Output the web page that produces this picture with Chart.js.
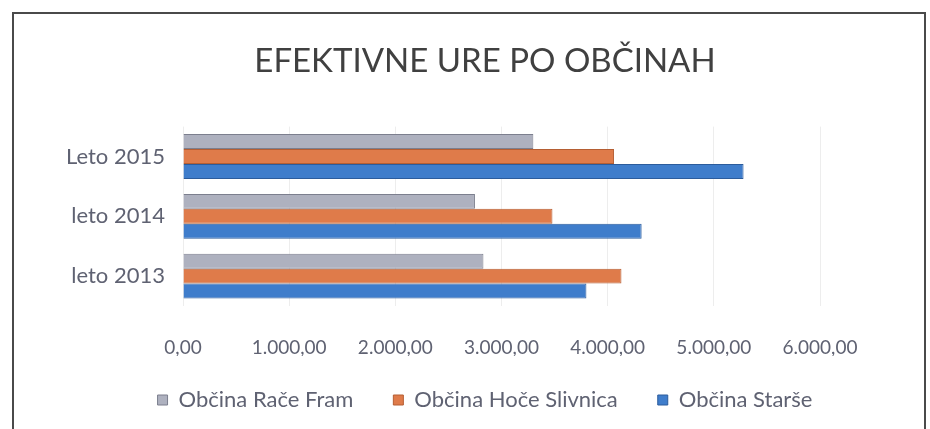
<!DOCTYPE html>
<html>
<head>
<meta charset="utf-8">
<script src="https://cdn.jsdelivr.net/npm/chart.js@4"></script>
<style>
  body { margin: 0; background: #fff; }
  #box {
    position: absolute; left: 12px; top: 12px;
    width: 914px; height: 430px;
    border: 2px solid #4a4a4a; border-bottom: none;
    box-sizing: border-box;
  }
</style>
</head>
<body>
<div id="box"><canvas id="chart"></canvas></div>
<script>
// Podatki
const categories = ['Leto 2015', 'leto 2014', 'leto 2013'];
const seriesNames = ['Občina Rače Fram', 'Občina Hoče Slivnica', 'Občina Starše'];
const raceFram = [3300, 2750, 2830];
const hoceSlivnica = [4060, 3480, 4130];
const starse = [5280, 4320, 3800];
const xTicks = [0, 1000, 2000, 3000, 4000, 5000, 6000];

const fill = ['#aeb1bf', '#df7b4a', '#3f7dcb'];
const edge = ['#7c7f8e', '#b55e33', '#2c5c9c'];
const textColor = '#5f6272';

// 1234.5 -> "1.234,50"
function fmt(v) {
    const parts = Number(v).toFixed(2).split('.');
    parts[0] = parts[0].replace(/\B(?=(\d{3})+(?!\d))/g, '.');
    return parts[0] + ',' + parts[1];
}

const canvas = document.getElementById('chart');
canvas.width = 910;
canvas.height = 415;

// legenda: razmik med elementi ostane velik, višina pa manjša
const legendHeight = {
    id: 'legendHeight',
    beforeUpdate(chart) {
        const lg = chart.legend;
        if (lg && !lg._patched) {
            const fit = lg.fit;
            lg.fit = function () { fit.call(this); this.height = 60; };
            lg._patched = true;
        }
    },
    afterLayout(chart) {
        chart.legend.top -= 7;
        chart.legend.bottom -= 7;
    }
};

new Chart(canvas.getContext('2d'), {
    type: 'bar',
    data: {
        labels: categories,
        datasets: [raceFram, hoceSlivnica, starse].map((d, i) => ({
            label: seriesNames[i],
            data: d,
            backgroundColor: fill[i],
            borderColor: edge[i],
            borderWidth: 1,
            categoryPercentage: 0.75,
            barPercentage: 1
        }))
    },
    options: {
        indexAxis: 'y',
        responsive: false,
        animation: false,
        layout: { padding: { left: 40, right: 8, top: 0, bottom: 13 } },
        scales: {
            x: {
                min: 0,
                max: 6000,
                afterBuildTicks: axis => { axis.ticks = xTicks.map(v => ({ value: v })); },
                afterFit: axis => { axis.height = 50; },
                grid: { color: '#ededed', drawTicks: false },
                border: { display: false },
                ticks: {
                    padding: 30,
                    color: textColor,
                    font: { family: 'Lato', size: 19 },
                    callback: v => fmt(v)
                }
            },
            y: {
                afterFit: axis => { axis.width = 129; },
                grid: { display: false },
                border: { display: false },
                ticks: {
                    padding: 10,
                    color: textColor,
                    font: { family: 'Lato', size: 22 }
                }
            },
            // prazen prostor desno od grafa
            yRight: {
                type: 'linear',
                axis: 'y',
                position: 'right',
                afterFit: axis => { axis.width = 96; },
                grid: { display: false },
                border: { display: false },
                ticks: { display: false }
            }
        },
        plugins: {
            title: {
                display: true,
                text: 'EFEKTIVNE URE PO OBČINAH',
                color: '#404040',
                font: { family: 'Lato', size: 33, weight: 'normal' },
                padding: { top: 28, bottom: 45 }
            },
            legend: {
                position: 'bottom',
                labels: {
                    boxWidth: 10,
                    boxHeight: 10,
                    padding: 40,
                    color: textColor,
                    font: { family: 'Lato', size: 22 }
                }
            },
            tooltip: { enabled: false }
        }
    },
    plugins: [legendHeight]
});
</script>
</body>
</html>
